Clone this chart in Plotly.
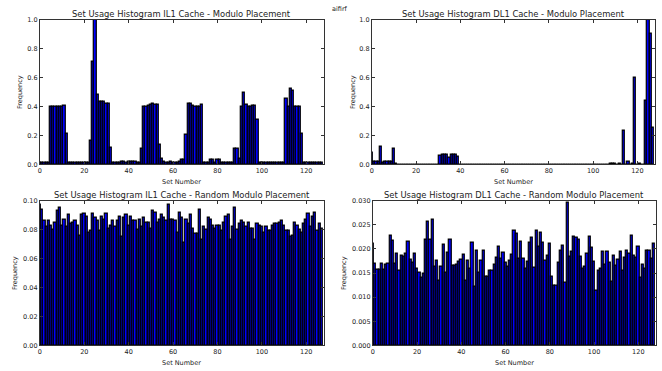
import plotly.graph_objects as go

W, H = 662, 371

set_numbers = list(range(128))

il1_modulo = (
    [0.015] * 5
    + [0.40, 0.40, 0.40, 0.40, 0.40, 0.40, 0.405, 0.21]
    + [0.01, 0.01, 0.01, 0.01, 0.01, 0.012, 0.015, 0.012, 0.012, 0.012]
    + [0.165, 0.71, 1.0, 0.485, 0.435, 0.435, 0.435, 0.42, 0.42, 0.115]
    + [0.015, 0.015, 0.015, 0.015, 0.022, 0.022, 0.015, 0.018, 0.018, 0.018, 0.018, 0.015, 0.015]
    + [0.11, 0.40, 0.40, 0.405, 0.41, 0.42, 0.415, 0.41, 0.14, 0.04]
    + [0.02, 0.015, 0.015, 0.018, 0.015, 0.015, 0.015, 0.02]
    + [0.035, 0.035, 0.205, 0.42, 0.42, 0.405, 0.40, 0.40, 0.40, 0.41]
    + [0.015, 0.015, 0.015, 0.035, 0.03, 0.015, 0.035, 0.035]
    + [0.015, 0.015, 0.015, 0.015, 0.015, 0.015]
    + [0.11, 0.11, 0.04, 0.40, 0.495, 0.41, 0.40, 0.40, 0.405, 0.405, 0.31]
    + [0.01, 0.01, 0.01, 0.01, 0.01, 0.01, 0.013, 0.013, 0.013, 0.01, 0.01, 0.01]
    + [0.455, 0.40, 0.525, 0.51, 0.40, 0.40, 0.40, 0.21]
    + [0.01] * 9
)

dl1_modulo = (
    [0.085, 0.02, 0.02, 0.02, 0.12, 0.01, 0.02, 0.02, 0.02, 0.02, 0.11, 0.004]
    + [0.0, 0.0, 0.0, 0.002, 0.002, 0.0]
    + [0.0] * 13
    + [0.062, 0.065, 0.065, 0.065, 0.05, 0.065, 0.065, 0.065, 0.052]
    + [0.0] * 68
    + [0.003, 0.003, 0.003, 0.0, 0.003, 0.0, 0.235, 0.0, 0.02, 0.0, 0.005, 0.6]
    + [0.0, 0.003, 0.0, 0.0, 0.44, 1.0, 0.90, 0.255]
)

il1_random = [
    0.097, 0.094, 0.086, 0.082, 0.086, 0.083, 0.080, 0.085, 0.093, 0.095,
    0.083, 0.087, 0.082, 0.090, 0.084, 0.085, 0.086, 0.083, 0.076, 0.090,
    0.091, 0.089, 0.078, 0.079, 0.091, 0.088, 0.086, 0.079, 0.089, 0.087,
    0.091, 0.081, 0.083, 0.086, 0.082, 0.086, 0.089, 0.075, 0.088, 0.090,
    0.083, 0.089, 0.086, 0.086, 0.080, 0.087, 0.082, 0.088, 0.085, 0.085,
    0.081, 0.093, 0.092, 0.085, 0.087, 0.090, 0.088, 0.086, 0.097, 0.087,
    0.087, 0.086, 0.078, 0.092, 0.088, 0.071, 0.087, 0.084, 0.090, 0.081,
    0.077, 0.077, 0.094, 0.073, 0.082, 0.080, 0.088, 0.087, 0.083, 0.081,
    0.083, 0.083, 0.079, 0.085, 0.089, 0.090, 0.073, 0.082, 0.095, 0.080,
    0.084, 0.086, 0.085, 0.082, 0.085, 0.081, 0.081, 0.073, 0.084, 0.083,
    0.082, 0.078, 0.082, 0.079, 0.079, 0.083, 0.084, 0.084, 0.085, 0.086,
    0.083, 0.079, 0.079, 0.075, 0.076, 0.085, 0.083, 0.080, 0.078, 0.084,
    0.087, 0.091, 0.082, 0.089, 0.092, 0.079, 0.084, 0.081,
]

dl1_random = [
    0.0210, 0.0170, 0.0157, 0.0157, 0.0170, 0.0157, 0.0168, 0.0170, 0.0228, 0.0218,
    0.0170, 0.0190, 0.0155, 0.0187, 0.0185, 0.0190, 0.0215, 0.0178, 0.0172, 0.0190,
    0.0160, 0.0150, 0.0140, 0.0148, 0.0220, 0.0257, 0.0220, 0.0261, 0.0164, 0.0175,
    0.0134, 0.0164, 0.0208, 0.0151, 0.0193, 0.0219, 0.0165, 0.0165, 0.0167, 0.0174,
    0.0178, 0.0189, 0.0134, 0.0176, 0.0159, 0.0214, 0.0121, 0.0196, 0.0150, 0.0176,
    0.0196, 0.0142, 0.0143, 0.0156, 0.0154, 0.0167, 0.0182, 0.0204, 0.0180, 0.0192,
    0.0172, 0.0163, 0.0175, 0.0189, 0.0237, 0.0231, 0.0179, 0.0215, 0.0180, 0.0160,
    0.0174, 0.0212, 0.0224, 0.0161, 0.0238, 0.0205, 0.0233, 0.0214, 0.0175, 0.0187,
    0.0211, 0.0143, 0.0123, 0.0123, 0.0172, 0.0197, 0.0206, 0.0130, 0.0296, 0.0185,
    0.0194, 0.0225, 0.0224, 0.0220, 0.0185, 0.0160, 0.0164, 0.0190, 0.0225, 0.0202,
    0.0173, 0.0113, 0.0155, 0.0159, 0.0194, 0.0167, 0.0195, 0.0171, 0.0132, 0.0186,
    0.0165, 0.0178, 0.0194, 0.0154, 0.0182, 0.0197, 0.0191, 0.0228, 0.0186, 0.0181,
    0.0205, 0.0141, 0.0168, 0.0160, 0.0196, 0.0197, 0.0179, 0.0210,
]

titles = [
    "Set Usage Histogram IL1 Cache - Modulo Placement",
    "Set Usage Histogram DL1 Cache - Modulo Placement",
    "Set Usage Histogram IL1 Cache - Random Modulo Placement",
    "Set Usage Histogram DL1 Cache - Random Modulo Placement",
]
x_ticks = [0, 20, 40, 60, 80, 100, 120]
y_ticks = [
    [0.0, 0.2, 0.4, 0.6, 0.8, 1.0],
    [0.0, 0.2, 0.4, 0.6, 0.8, 1.0],
    [0.00, 0.02, 0.04, 0.06, 0.08, 0.10],
    [0.000, 0.005, 0.010, 0.015, 0.020, 0.025, 0.030],
]
y_ranges = [[0, 1.0], [0, 1.0], [0, 0.10], [0, 0.030]]
y_formats = [".1f", ".1f", ".2f", ".3f"]
series = [il1_modulo, dl1_modulo, il1_random, dl1_random]

# plot-area boxes in pixels: (left, right, top, bottom)
boxes = [(38, 323, 16, 164), (371, 655, 16, 164), (38, 323, 201, 349), (372, 656, 201, 349)]
ylabel_x = [18, 352, 13, 343]

FONT = "DejaVu Sans"
fig = go.Figure()
annotations = []
for k in range(4):
    l, r, t, b = boxes[k]
    xa = "xaxis" if k == 0 else f"xaxis{k+1}"
    ya = "yaxis" if k == 0 else f"yaxis{k+1}"
    xr = "x" if k == 0 else f"x{k+1}"
    yr = "y" if k == 0 else f"y{k+1}"
    fig.add_trace(go.Bar(
        x=set_numbers, y=series[k], width=1,
        marker=dict(color="#0000ff", line=dict(color="#000000", width=1.2)),
        xaxis=xr, yaxis=yr, showlegend=False, hoverinfo="x+y",
    ))
    common = dict(
        showgrid=False, zeroline=False, showline=True, linecolor="#333333", linewidth=1,
        mirror="ticks", ticks="inside", ticklen=3, tickcolor="#333333",
        tickfont=dict(family=FONT, size=6.5, color="#222222"),
    )
    fig.update_layout({
        xa: dict(domain=[l / W, r / W], anchor=yr, range=[0, 128],
                 tickvals=x_ticks, **common),
        ya: dict(domain=[1 - b / H, 1 - t / H], anchor=xr, range=y_ranges[k],
                 tickvals=y_ticks[k], tickformat=y_formats[k], **common),
    })
    annotations.append(dict(
        text=titles[k], x=(l + r) / 2 / W, y=1 - (t - 6) / H, xref="paper", yref="paper",
        showarrow=False, xanchor="center", yanchor="middle",
        font=dict(family=FONT, size=8.4, color="#222222"),
    ))
    annotations.append(dict(
        text="Set Number", x=(l + r) / 2 / W, y=1 - (b + 17.5) / H, xref="paper", yref="paper",
        showarrow=False, xanchor="center", yanchor="middle",
        font=dict(family=FONT, size=6.5, color="#222222"),
    ))
    annotations.append(dict(
        text="Frequency", x=ylabel_x[k] / W, y=1 - (t + b) / 2 / H, xref="paper", yref="paper",
        showarrow=False, xanchor="center", yanchor="middle", textangle=-90,
        font=dict(family=FONT, size=6.5, color="#222222"),
    ))

annotations.append(dict(
    text="aifirf", x=339 / W, y=1 - 5 / H, xref="paper", yref="paper",
    showarrow=False, xanchor="center", yanchor="middle",
    font=dict(family=FONT, size=6.5, color="#222222"),
))

fig.update_layout(
    width=W, height=H, margin=dict(l=0, r=0, t=0, b=0),
    paper_bgcolor="white", plot_bgcolor="white", bargap=0,
    annotations=annotations,
)
fig.write_html(
    "out.html",
    config={"displayModeBar": False},
    post_script="document.body.style.margin='0';document.body.style.overflow='hidden';",
)
